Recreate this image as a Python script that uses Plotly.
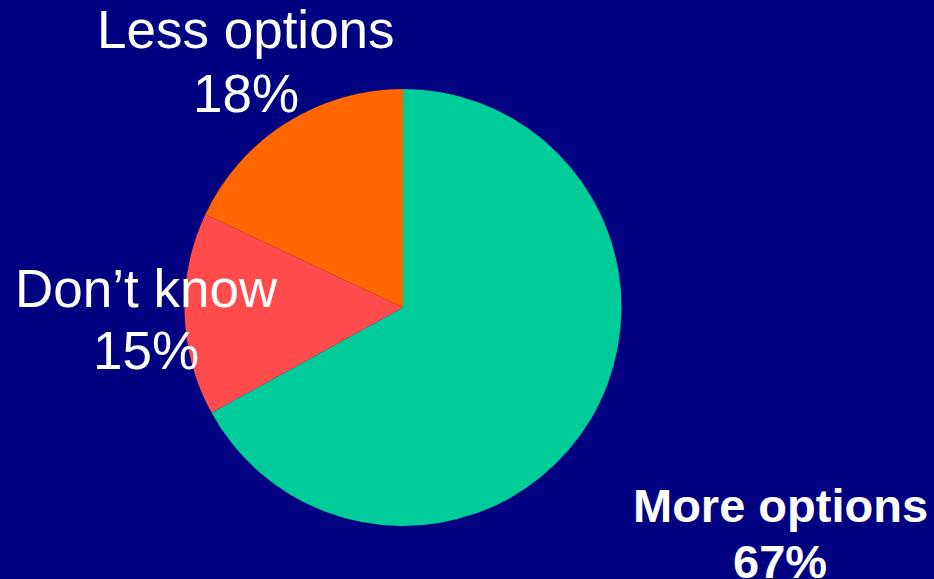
import plotly.graph_objects as go

labels = ["More options", "Don\u2019t know", "Less options"]
values = [67, 15, 18]
colors = ["#00CC99", "#FF4B4B", "#FF6600"]

W, H = 934, 579
cx, cy, r = 403, 307.5, 218.5

fig = go.Figure(go.Pie(
    labels=labels, values=values, sort=False, direction="clockwise", rotation=0,
    marker=dict(colors=colors, line=dict(width=0)),
    textinfo="none", hoverinfo="label+percent", showlegend=False,
    domain=dict(x=[(cx - r) / W, (cx + r) / W], y=[(H - cy - r) / H, (H - cy + r) / H]),
))

# label positions (pixel centers of the two lines) and styles
label_pos = [(780, 505, 561, True), (146, 288, 350, False), (246, 30, 93, False)]
anns = []
for lab, val, (x, y1, y2, bold) in zip(labels, values, label_pos):
    size = 47 if bold else 53
    for txt, y in ((lab, y1), (f"{val}%", y2)):
        anns.append(dict(
            x=x / W, y=1 - y / H, xref="paper", yref="paper",
            text=f"<b>{txt}</b>" if bold else txt, showarrow=False,
            xanchor="center", yanchor="middle",
            font=dict(family="Arial, Liberation Sans, sans-serif", size=size, color="white"),
        ))

fig.update_layout(
    width=W, height=H, margin=dict(l=0, r=0, t=0, b=0),
    paper_bgcolor="#000080", plot_bgcolor="#000080",
    annotations=anns,
)
fig.write_html("out.html")
